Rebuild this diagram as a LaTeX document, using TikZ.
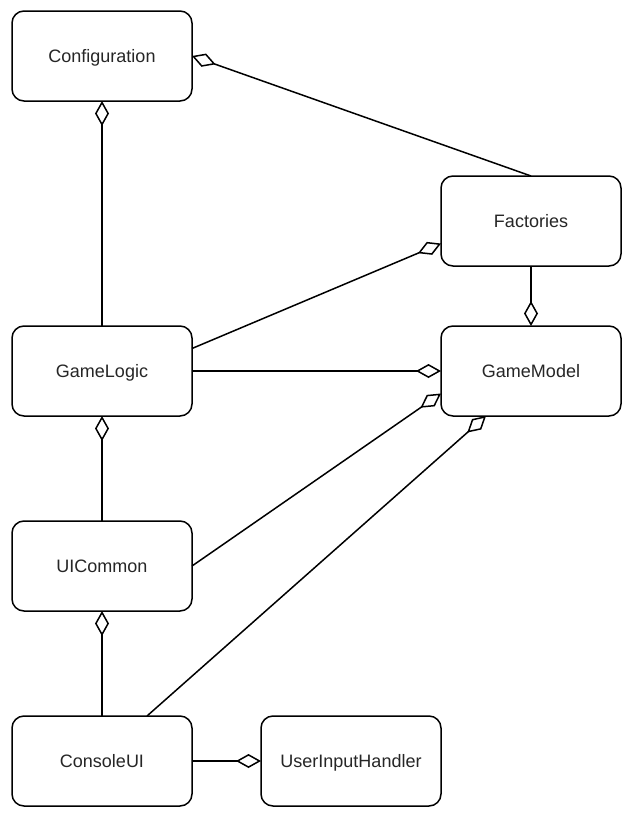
\documentclass[tikz,border=0pt]{standalone}
\usepackage{fontspec}
\setmainfont{Liberation Sans}
\usetikzlibrary{arrows.meta,calc}

\tikzset{
  cls/.style={draw=black, line width=1.5pt, rounded corners=12pt, fill=white,
    minimum width=180pt, minimum height=90pt, inner sep=0pt, outer sep=0pt,
    text height=17pt, text depth=4pt,
    font=\fontsize{18pt}{22pt}\selectfont, text=black!85},
  agg/.style={draw=black, line width=1.5pt,
    -{Diamond[open, length=25pt, width=14pt, line join=miter]}},
}

\begin{document}
\begin{tikzpicture}[x=1pt, y=-1pt]
  \useasboundingbox (0,0) rectangle (632,817);

  % classes
  \node[cls] (config)    at (102,56)  {Configuration};
  \node[cls] (factories) at (531,221) {Factories};
  \node[cls] (logic)     at (102,371) {GameLogic};
  \node[cls] (model)     at (531,371) {GameModel};
  \node[cls] (uicommon)  at (102,566) {UICommon};
  \node[cls] (console)   at (102,761) {ConsoleUI};
  \node[cls] (input)     at (351,761) {UserInputHandler};

  % attachment points off the side centres
  \coordinate (logicE)   at ($(logic.north east)!0.25!(logic.south east)$);
  \coordinate (factW)    at ($(factories.north west)!0.75!(factories.south west)$);
  \coordinate (modelW)   at ($(model.north west)!0.75!(model.south west)$);
  \coordinate (modelS)   at ($(model.south west)!0.25!(model.south east)$);
  \coordinate (consoleN) at ($(console.north west)!0.75!(console.north east)$);

  % aggregations (diamond on the whole)
  \draw[agg] (factories.north) -- (config.east);
  \draw[agg] (logic.north) -- (config.south);
  \draw[agg] (logicE) -- (factW);
  \draw[agg] (factories.south) -- (model.north);
  \draw[agg] (logic.east) -- (model.west);
  \draw[agg] (uicommon.east) -- (modelW);
  \draw[agg] (consoleN) -- (modelS);
  \draw[agg] (uicommon.north) -- (logic.south);
  \draw[agg] (console.north) -- (uicommon.south);
  \draw[agg] (console.east) -- (input.west);
\end{tikzpicture}
\end{document}
